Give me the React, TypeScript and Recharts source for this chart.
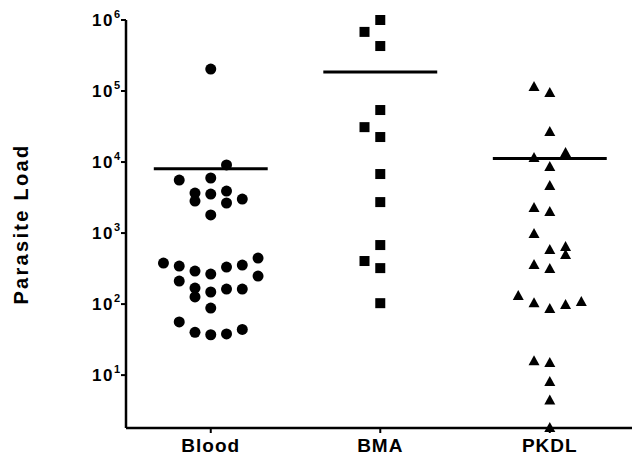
import { ScatterChart, Scatter, XAxis, YAxis, ReferenceLine } from "recharts"

const categories = ["Blood", "BMA", "PKDL"]

// parasite load per patient, with the column slot used to spread the dots sideways
const bloodLoad = [
  204000, 9100, 5570, 5960, 3660, 2820, 3540, 3900, 2650, 3010, 1800,
  378, 343, 211, 292, 265, 332, 354, 445, 248, 168, 126, 148, 163, 163,
  88, 56, 40, 37, 38, 44,
]
const bloodSlot = [
  0, 1, -2, 0, -1, -1, 0, 1, 1, 2, 0,
  -3, -2, -2, -1, 0, 1, 2, 3, 3, -1, -1, 0, 1, 2,
  0, -2, -1, 0, 1, 2,
]

const bmaLoad = [1000000, 680000, 430000, 54000, 31000, 22500, 6780, 2730, 678, 404, 321, 103]
const bmaSlot = [0, -1, 0, 0, -1, 0, 0, 0, 0, -1, 0, 0]

const pkdlLoad = [
  114000, 94000, 26500, 11400, 13400, 8500, 4600, 2250, 1980, 968, 577, 636, 490,
  354, 311, 130, 103, 85, 97, 107, 15.7, 14.8, 8, 4.4, 1.8,
]
const pkdlSlot = [
  -1, 0, 0, -1, 1, 0, 0, -1, 0, -1, 0, 1, 1,
  -1, 0, -2, -1, 0, 1, 2, -1, 0, 0, 0, 0,
]

const yTicks = [10, 100, 1000, 10000, 100000, 1000000]

const SLOT = 0.093
const HALF = 0.336

const toPoints = (group: number, load: number[], slot: number[]) =>
  load.map((v, i) => ({ x: group + slot[i] * SLOT, y: v }))

const mean = (arr: number[]) => arr.reduce((a, b) => a + b, 0) / arr.length

const groups = [
  { pos: 1, load: bloodLoad },
  { pos: 2, load: bmaLoad },
  { pos: 3, load: pkdlLoad },
]

const font = "'Liberation Sans', Arial, sans-serif"

const Dot = (props: any) => <circle cx={props.cx} cy={props.cy} r={5.5} fill="#000" />
const Square = (props: any) => (
  <rect x={props.cx - 5} y={props.cy - 5} width={10} height={10} fill="#000" />
)
const Tri = (props: any) => (
  <polygon
    points={`${props.cx},${props.cy - 6} ${props.cx + 5.5},${props.cy + 4} ${props.cx - 5.5},${props.cy + 4}`}
    fill="#000"
  />
)

const PowTick = (props: any) => {
  const { x, y, payload } = props
  const exp = Math.round(Math.log10(payload.value))
  return (
    <text x={x} y={y} dy={6} textAnchor="end" fontFamily={font} fontWeight="bold" fill="#000">
      <tspan fontSize={17} letterSpacing={1.5}>10</tspan>
      <tspan fontSize={11} dy={-8}>{exp}</tspan>
    </text>
  )
}

export default function App() {
  return (
    <div style={{ position: "absolute", left: 0, top: 0, background: "#fff" }}>
      <ScatterChart width={632} height={461} margin={{ top: 20, right: 0, bottom: 0, left: 0 }}>
        <XAxis
          type="number"
          dataKey="x"
          domain={[0.5, 3.485]}
          ticks={[1, 2, 3]}
          tickFormatter={(v: number) => categories[v - 1]}
          height={33}
          tickSize={5}
          tickMargin={6}
          axisLine={{ stroke: "#000", strokeWidth: 2.5 }}
          tickLine={{ stroke: "#000", strokeWidth: 2 }}
          tick={{ fill: "#000", fontSize: 19, fontWeight: "bold", fontFamily: font, letterSpacing: 1 }}
        />
        <YAxis
          type="number"
          dataKey="y"
          scale="log"
          domain={[1.8, 1000000]}
          ticks={yTicks}
          width={126}
          tickSize={5}
          tickMargin={1}
          axisLine={{ stroke: "#000", strokeWidth: 2.5 }}
          tickLine={{ stroke: "#000", strokeWidth: 2 }}
          tick={<PowTick />}
          label={{
            value: "Parasite Load",
            angle: -90,
            position: "insideLeft",
            offset: 21,
            style: { textAnchor: "middle", fill: "#000", fontSize: 20, fontWeight: "bold", fontFamily: font, letterSpacing: 2.3 },
          }}
        />
        {groups.map((g) => (
          <ReferenceLine
            key={g.pos}
            segment={[
              { x: g.pos - HALF, y: mean(g.load) },
              { x: g.pos + HALF, y: mean(g.load) },
            ]}
            stroke="#000"
            strokeWidth={3}
          />
        ))}
        <Scatter data={toPoints(1, bloodLoad, bloodSlot)} shape={Dot} isAnimationActive={false} />
        <Scatter data={toPoints(2, bmaLoad, bmaSlot)} shape={Square} isAnimationActive={false} />
        <Scatter data={toPoints(3, pkdlLoad, pkdlSlot)} shape={Tri} isAnimationActive={false} />
      </ScatterChart>
    </div>
  )
}
